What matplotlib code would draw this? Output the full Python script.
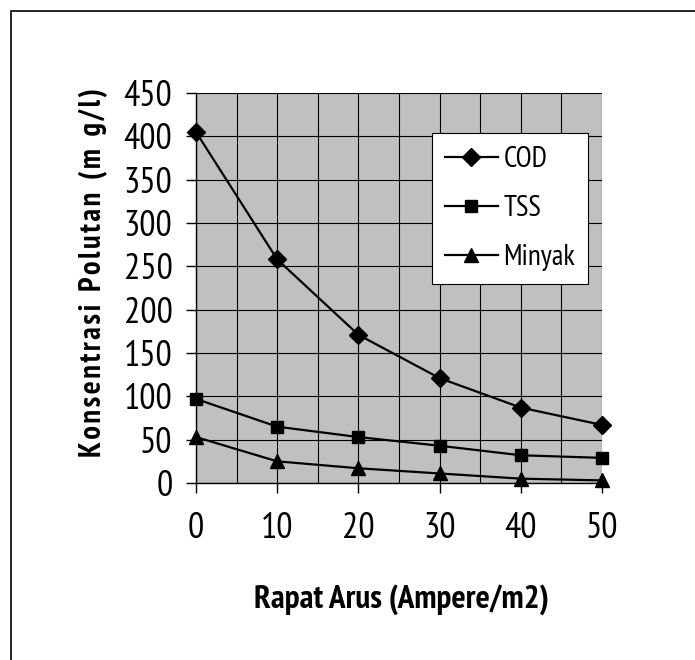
import matplotlib.pyplot as plt
from matplotlib.patches import Rectangle
from matplotlib.ticker import MultipleLocator

plt.rcParams['font.family'] = ['PT Sans Narrow', 'Liberation Sans', 'DejaVu Sans']

# current density (A/m2) and pollutant concentrations (mg/l)
rapat_arus = [0, 10, 20, 30, 40, 50]
cod = [405, 258, 171, 121, 87, 67]
tss = [97, 65, 53, 43, 32, 29]
minyak = [53, 25, 17, 11, 5, 3]

fig = plt.figure(figsize=(6.95, 6.6), dpi=100)
fig.patches.append(Rectangle((11 / 695, -0.1), 1.2, 1 - 11 / 660 + 0.1,
                             transform=fig.transFigure, fill=False,
                             edgecolor='black', linewidth=1.2))

ax = fig.add_axes([196 / 695, 1 - 483 / 660, 406 / 695, 390 / 660])
ax.set_facecolor('#C0C0C0')

ax.plot(rapat_arus, cod, color='black', lw=1.6, marker='D', ms=9, label='COD')
ax.plot(rapat_arus, tss, color='black', lw=1.6, marker='s', ms=9, label='TSS')
ax.plot(rapat_arus, minyak, color='black', lw=1.6, marker='^', ms=10, label='Minyak')

ax.set_xlim(0, 50)
ax.set_ylim(0, 450)
ax.xaxis.set_major_locator(MultipleLocator(10))
ax.xaxis.set_minor_locator(MultipleLocator(5))
ax.yaxis.set_major_locator(MultipleLocator(50))
ax.grid(True, which='major', axis='both', color='black', lw=0.8)
ax.grid(True, which='minor', axis='x', color='black', lw=0.8)
ax.set_axisbelow(True)
for s in ['top', 'right']:
    ax.spines[s].set_visible(False)
for s in ['left', 'bottom']:
    ax.spines[s].set_linewidth(1.0)
ax.tick_params(axis='both', which='major', labelsize=26, length=7, width=1.0,
               direction='out')
ax.tick_params(axis='y', pad=10)
ax.tick_params(axis='x', pad=14)
ax.tick_params(axis='x', which='minor', length=0)

for line in ax.lines:
    line.set_clip_on(False)

# spread the y label letters with hair spaces
hair = '\u200a'
ylab = '  '.join(hair.join(w) for w in ['Konsentrasi', 'Polutan', '(m', 'g/l)'])
ax.set_ylabel(ylab, fontsize=22, fontweight='bold')
ax.yaxis.set_label_coords(-0.217, 0.541)
ax.set_xlabel('Rapat Arus (Ampere/m2)', fontsize=24, fontweight='bold')
ax.xaxis.set_label_coords(0.505, -0.26)

leg = ax.legend(loc='upper left', bbox_to_anchor=(432 / 695, 1 - 133 / 660),
                bbox_transform=fig.transFigure, fontsize=21, frameon=True,
                fancybox=False, edgecolor='black', framealpha=1, borderaxespad=0,
                handlelength=1.8, labelspacing=0.75, borderpad=0.45,
                handletextpad=0.2)
leg.get_frame().set_linewidth(0.8)

fig.savefig('out.png', dpi=100)
